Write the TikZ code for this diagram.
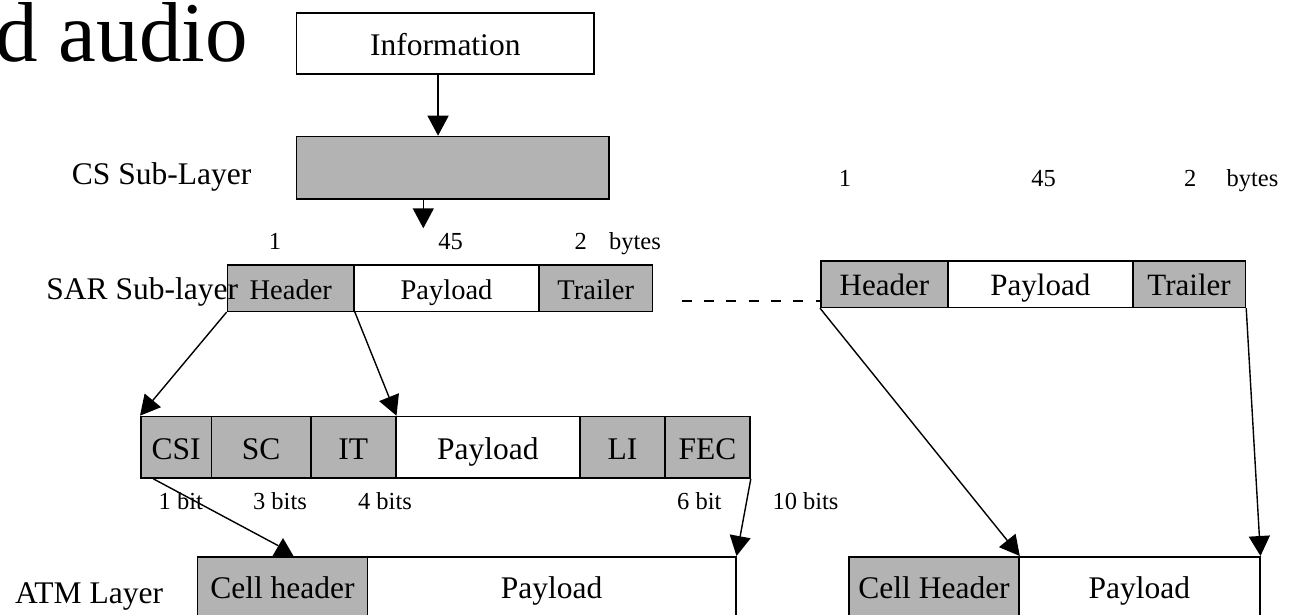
\documentclass[tikz,border=0pt]{standalone}
\usepackage{fontspec}
\setmainfont{Liberation Serif}
\usetikzlibrary{arrows.meta}
\definecolor{cellgray}{RGB}{179,179,179}
\newcommand\fbigtxt{\fontsize{31.5pt}{36pt}\selectfont}
\newcommand\fsartxt{\fontsize{28.5pt}{33pt}\selectfont}
\newcommand\frsartxt{\fontsize{31pt}{36pt}\selectfont}
\newcommand\fsmalltxt{\fontsize{24.5pt}{28pt}\selectfont}
\newcommand\ftitletxt{\fontsize{85pt}{96pt}\selectfont}
\begin{document}
\begin{tikzpicture}[x=1pt,y=-1pt,
  cellbox/.style={draw, line width=1.5pt, inner sep=0pt, anchor=north west,
    text height=23.6pt, text depth=0pt},
  shaded/.style={fill=cellgray},
  bigbox/.style={cellbox, font=\fbigtxt},
  sarbox/.style={cellbox, font=\fsartxt, minimum height=46.5pt, text height=22pt},
  rsarbox/.style={cellbox, font=\frsartxt, minimum height=46.7pt, text height=23.2pt},
  csibox/.style={cellbox, font=\fbigtxt, minimum height=61.6pt},
  atmbox/.style={cellbox, font=\fbigtxt, minimum height=60pt, text height=22.8pt},
  lbl/.style={font=\fbigtxt, inner sep=0pt},
  small/.style={font=\fsmalltxt, inner sep=0pt, anchor=base},
  conn/.style={line width=1.4pt},
  arr/.style={conn, -{Triangle[length=20pt,width=21pt]}},
  dashline/.style={line width=1.5pt, dash pattern=on 10pt off 12.3pt}
]
\useasboundingbox (0,0) rectangle (1297,614);

% title fragment
\node[font=\ftitletxt, inner sep=0pt, anchor=base west] (title) at (-5,61.7) {d audio};

% information and CS sub-layer
\node[bigbox, minimum width=297.6pt, minimum height=61pt] (info) at (295.7,12.3) {Information};
\node[bigbox, shaded, minimum width=312.6pt, minimum height=62.6pt] (cs) at (295.7,135.7) {};
\node[lbl, anchor=base west] (cslbl) at (71.7,184.3) {CS Sub-Layer};
\coordinate (csout) at (423.3,228.3);

% left SAR PDU
\node[sarbox, shaded, minimum width=126.6pt] (lhdr) at (226.7,264) {Header};
\node[sarbox, minimum width=185pt] (lpay) at (353.3,264) {Payload};
\node[sarbox, shaded, minimum width=113.4pt] (ltrl) at (538.3,264) {Trailer};
\node[lbl, anchor=base east] (sarlbl) at (238.3,299.5) {SAR Sub-layer};
\node[small] (l1) at (275,249.3) {1};
\node[small] (l45) at (450.7,249.3) {45};
\node[small] (l2) at (580.7,249.3) {2};
\node[small] (lbytes) at (635,249.3) {bytes};

% right SAR PDU
\node[rsarbox, shaded, minimum width=127.3pt] (rhdr) at (820,260) {Header};
\node[rsarbox, minimum width=184.7pt] (rpay) at (947.3,260) {Payload};
\node[rsarbox, shaded, minimum width=112.7pt] (rtrl) at (1132,260) {Trailer};
\node[small] (r1) at (845,186.7) {1};
\node[small] (r45) at (1043.7,186.7) {45};
\node[small] (r2) at (1190.3,186.7) {2};
\node[small] (rbytes) at (1252.5,186.7) {bytes};
\coordinate (dstart) at (681.7,301);

% header / trailer fields
\node[csibox, shaded, minimum width=70.7pt] (csi) at (140,415.7) {CSI};
\node[csibox, shaded, minimum width=99.3pt] (sc) at (210.7,415.7) {SC};
\node[csibox, shaded, minimum width=85pt] (it) at (310,415.7) {IT};
\node[csibox, minimum width=184.3pt] (fpay) at (395,415.7) {Payload};
\node[csibox, shaded, minimum width=85pt] (li) at (579.3,415.7) {LI};
\node[csibox, shaded, minimum width=85pt] (fec) at (664.3,415.7) {FEC};
\node[small] (b1) at (180.8,509.3) {1 bit};
\node[small] (b3) at (280,509.3) {3 bits};
\node[small] (b4) at (385,509.3) {4 bits};
\node[small] (b6) at (699.3,509.3) {6 bit};
\node[small] (b10) at (805.5,509.3) {10 bits};

% ATM layer
\node[atmbox, shaded, minimum width=170pt] (chL) at (196.7,556) {Cell header};
\node[atmbox, minimum width=368.3pt] (payL) at (366.7,556) {Payload};
\node[atmbox, shaded, minimum width=170pt] (chR) at (848.3,556) {Cell Header};
\node[atmbox, minimum width=240.7pt] (payR) at (1018.3,556) {Payload};
\node[lbl, anchor=base west] (atmlbl) at (15,603.3) {ATM Layer};
\coordinate (chtip) at (283,538);
\coordinate (chend) at (278.3,545.7);

% connectors
\draw[arr] ([xshift=-7.2pt]info.south) -- ([xshift=-7.2pt]info.south |- cs.north);
\draw[arr] (cs.south -| csout) -- (csout);
\draw[arr] (lhdr.south west) -- (csi.north west);
\draw[arr] (lhdr.south east) -- (it.north east);
\draw[conn] ([xshift=13.3pt]csi.south west) -- (chend);
\fill (chtip) -- ++(-10.5,18) -- ++(21,0) -- cycle;
\draw[arr] (fec.south east) -- (payL.north east);
\draw[dashline] (dstart) -- (dstart -| rhdr.west);
\draw[arr] (rhdr.south west) -- (chR.north east);
\draw[arr] (rtrl.south east) -- (payR.north east);
\end{tikzpicture}
\end{document}
